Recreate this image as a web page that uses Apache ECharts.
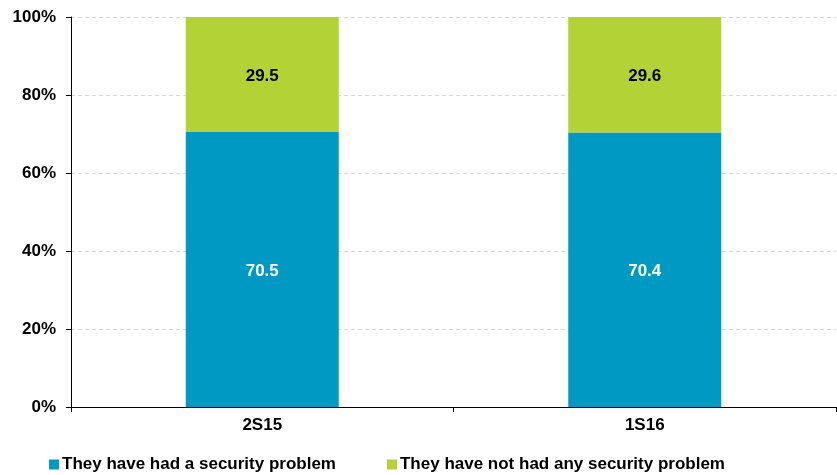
<!DOCTYPE html>
<html>
<head>
<meta charset="utf-8">
<script src="https://cdn.jsdelivr.net/npm/echarts@6/dist/echarts.min.js"></script>
<style>
  html, body { margin: 0; padding: 0; background: #fff; }
  #chart { width: 837px; height: 475px; }
</style>
</head>
<body>
<div id="chart"></div>
<script>
// Semesters on the x axis
const categories = ['2S15', '1S16'];
// Share of respondents (%)
const hadProblem = [70.5, 70.4];
const noProblem = [29.5, 29.6];
const seriesNames = ['They have had a security problem', 'They have not had any security problem'];
const yTicks = [0, 20, 40, 60, 80, 100];

const FONT = '"Liberation Sans", Arial, sans-serif';
const FS = 17;

const chart = echarts.init(document.getElementById('chart'), null, { renderer: 'canvas' });
chart.setOption({
  animation: false,
  textStyle: { fontFamily: FONT },
  grid: { left: 71, right: 1, top: 17, bottom: 68, containLabel: false },
  legend: {
    left: 44,
    top: 451,
    itemWidth: 10,
    itemHeight: 10,
    itemGap: 51,
    icon: 'rect',
    textStyle: { fontFamily: FONT, fontWeight: 'bold', fontSize: FS, color: '#000', padding: [0, 0, 0, -2] },
    data: seriesNames
  },
  xAxis: {
    type: 'category',
    data: categories,
    boundaryGap: true,
    axisLine: { lineStyle: { color: '#000', width: 1 } },
    axisTick: { show: true, inside: false, length: 5, lineStyle: { color: '#000' } },
    axisLabel: { fontFamily: FONT, fontWeight: 'bold', fontSize: FS, color: '#000', margin: 10 }
  },
  yAxis: {
    type: 'value',
    min: yTicks[0],
    max: yTicks[yTicks.length - 1],
    interval: 20,
    axisLine: { show: true, lineStyle: { color: '#000', width: 1 } },
    axisTick: { show: true, length: 5, lineStyle: { color: '#000' } },
    axisLabel: { fontFamily: FONT, fontWeight: 'bold', fontSize: FS, color: '#000', margin: 15, formatter: v => v + '%' },
    splitLine: { show: true, lineStyle: { color: '#d8d8d8', type: [4, 3], width: 1 } }
  },
  series: [
    {
      name: seriesNames[0],
      type: 'bar',
      stack: 'total',
      data: hadProblem,
      barWidth: '40%',
      itemStyle: { color: '#0099C3' },
      label: { show: true, position: 'inside', offset: [0, 2], color: '#fff', fontFamily: FONT, fontWeight: 'bold', fontSize: FS, formatter: p => p.value.toFixed(1) }
    },
    {
      name: seriesNames[1],
      type: 'bar',
      stack: 'total',
      data: noProblem,
      barWidth: '40%',
      itemStyle: { color: '#B2D235' },
      label: { show: true, position: 'inside', offset: [0, 2], color: '#000', fontFamily: FONT, fontWeight: 'bold', fontSize: FS, formatter: p => p.value.toFixed(1) }
    }
  ]
});
</script>
</body>
</html>
